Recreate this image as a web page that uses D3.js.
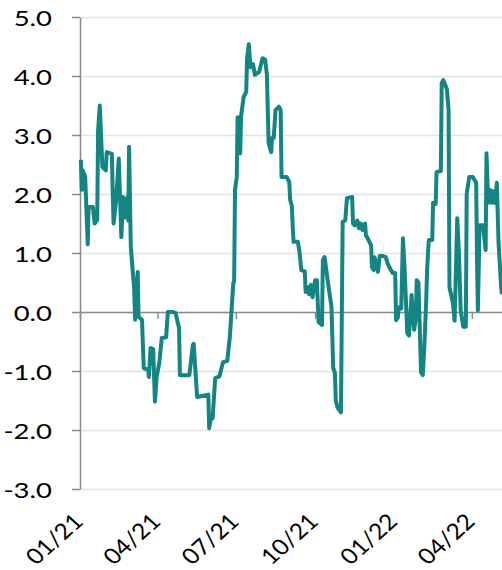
<!DOCTYPE html>
<html>
<head>
<meta charset="utf-8">
<script src="https://cdn.jsdelivr.net/npm/d3@7"></script>
<style>
    body { margin: 0; background: #fff; }
    svg { display: block; }
</style>
</head>
<body>
<div id="chart"></div>
<script>

var svgW = 502;
var svgH = 570;

var margin = {
    left: 80,
    right: 0,
    top: 17,
    bottom: 81
}

var chartH = svgH - margin.top - margin.bottom;
var chartW = svgW - margin.left - margin.right;

// series
var dates = [
    "2021-01-02","2021-01-03","2021-01-04","2021-01-07","2021-01-10","2021-01-11","2021-01-16","2021-01-18","2021-01-21","2021-01-22",
    "2021-01-24","2021-01-27","2021-01-31","2021-02-01","2021-02-07","2021-02-08","2021-02-09","2021-02-12","2021-02-15","2021-02-18",
    "2021-02-20","2021-02-22","2021-02-25","2021-02-26","2021-02-27","2021-03-01","2021-03-05","2021-03-06","2021-03-09","2021-03-10",
    "2021-03-14","2021-03-16","2021-03-21","2021-03-22","2021-03-24","2021-03-27","2021-03-29","2021-03-31","2021-04-03","2021-04-06",
    "2021-04-11","2021-04-13","2021-04-19","2021-04-22","2021-04-26","2021-04-27","2021-05-08","2021-05-12","2021-05-13","2021-05-17",
    "2021-05-30","2021-05-31","2021-06-02","2021-06-04","2021-06-07","2021-06-12","2021-06-16","2021-06-21","2021-06-24","2021-06-28",
    "2021-06-29","2021-06-30","2021-07-02","2021-07-03","2021-07-06","2021-07-07","2021-07-10","2021-07-13","2021-07-14","2021-07-16",
    "2021-07-18","2021-07-21","2021-07-23","2021-07-28","2021-08-01","2021-08-04","2021-08-06","2021-08-08","2021-08-11","2021-08-12",
    "2021-08-14","2021-08-16","2021-08-20","2021-08-22","2021-08-23","2021-08-29","2021-09-01","2021-09-02","2021-09-04","2021-09-05",
    "2021-09-06","2021-09-11","2021-09-13","2021-09-15","2021-09-19","2021-09-20","2021-09-23","2021-09-24","2021-09-26","2021-09-28",
    "2021-10-01","2021-10-03","2021-10-05","2021-10-09","2021-10-10","2021-10-12","2021-10-16","2021-10-20","2021-10-22","2021-10-24",
    "2021-10-25","2021-10-27","2021-10-31","2021-11-02","2021-11-05","2021-11-07","2021-11-13","2021-11-14","2021-11-16","2021-11-19",
    "2021-11-21","2021-11-23","2021-11-25","2021-11-28","2021-11-29","2021-12-01","2021-12-05","2021-12-06","2021-12-08","2021-12-09",
    "2021-12-12","2021-12-13","2021-12-15","2021-12-19","2021-12-22","2021-12-24","2021-12-28","2021-12-30","2022-01-02","2022-01-03",
    "2022-01-05","2022-01-06","2022-01-09","2022-01-11","2022-01-13","2022-01-16","2022-01-18","2022-01-21","2022-01-24","2022-01-26",
    "2022-01-27","2022-01-29","2022-02-01","2022-02-03","2022-02-05","2022-02-07","2022-02-08","2022-02-10","2022-02-14","2022-02-15",
    "2022-02-18","2022-02-19","2022-02-24","2022-02-25","2022-02-27","2022-03-03","2022-03-05","2022-03-06","2022-03-10","2022-03-12",
    "2022-03-15","2022-03-17","2022-03-19","2022-03-22","2022-03-25","2022-03-26","2022-03-29","2022-04-02","2022-04-06","2022-04-07",
    "2022-04-08","2022-04-10","2022-04-14","2022-04-17","2022-04-18","2022-04-20","2022-04-22","2022-04-24","2022-04-25","2022-04-28",
    "2022-04-30","2022-05-02","2022-05-05","2022-05-06"
];

var values = [
    2.58, 2.07, 2.4, 2.3, 1.15, 1.78, 1.78, 1.5, 1.56, 3.08,
    3.5, 2.46, 2.4, 2.71, 2.68, 2.0, 1.5, 1.9, 2.6, 1.27,
    1.95, 1.6, 1.95, 1.55, 2.8, 1.1, 0.37, -0.13, 0.68, -0.08,
    -0.13, -0.95, -0.98, -1.1, -0.61, -0.63, -1.52, -1.1, -0.87, -0.44,
    -0.43, 0.0, 0.0, -0.02, -0.27, -1.07, -1.07, -0.56, -0.54, -1.44,
    -1.4, -1.97, -1.8, -1.8, -1.12, -1.09, -0.85, -0.83, -0.42, 0.49,
    0.53, 2.07, 2.29, 3.3, 2.69, 3.32, 3.64, 3.73, 4.3, 4.54,
    4.15, 4.2, 4.02, 4.07, 4.3, 4.28, 4.02, 2.86, 2.71, 2.95,
    2.95, 3.42, 3.48, 3.42, 2.29, 2.29, 2.2, 1.9, 1.8, 1.44,
    1.19, 1.19, 1.0, 0.71, 0.69, 0.34, 0.42, 0.3, 0.46, 0.25,
    0.54, 0.54, -0.17, -0.22, 0.88, 0.93, 0.49, 0.09, -0.95, -1.03,
    -1.5, -1.62, -1.7, 1.53, 1.55, 1.93, 1.95, 1.5, 1.47, 1.55,
    1.42, 1.5, 1.39, 1.5, 1.3, 1.25, 1.13, 0.76, 0.71, 0.93,
    0.76, 0.68, 0.95, 0.95, 0.93, 0.83, 0.71, 0.66, 0.66, -0.14,
    -0.1, 0.08, 0.06, 1.25, 0.71, -0.36, -0.4, 0.29, -0.3, -0.1,
    0.54, 0.5, -1.02, -1.07, -0.53, 0.2, 0.71, 1.22, 1.22, 1.85,
    1.83, 2.37, 2.39, 3.88, 3.93, 3.78, 3.42, 0.42, 0.15, -0.15,
    1.59, 1.0, 0.03, -0.25, -0.25, 2.0, 2.29, 2.29, 2.19, 0.88,
    0.03, 1.47, 1.47, 1.05, 2.69, 1.85, 2.07, 1.85, 2.05, 1.85,
    2.19, 1.17, 0.42, 0.3
];

var xTickDates = ["2021-01-01", "2021-04-01", "2021-07-01", "2021-10-01", "2022-01-01", "2022-04-01"];
var xTickLabels = ["01/21", "04/21", "07/21", "10/21", "01/22", "04/22"];
var yTicks = [-3, -2, -1, 0, 1, 2, 3, 4, 5];

var parseDate = d3.timeParse("%Y-%m-%d");
var data = dates.map((d, i) => ({ date: parseDate(d), value: values[i] }));
var tickDates = xTickDates.map(parseDate);

var svg = d3.select("#chart")
    .append("svg")
    .attr("width", svgW)
    .attr("height", svgH);
var g = svg.append("g")
    .attr("transform", `translate(${margin.left}, ${margin.top})`);

var xScale = d3.scaleTime()
    .domain([parseDate("2021-01-01"), parseDate("2022-05-06")])
    .range([0, chartW]);

var yScale = d3.scaleLinear()
    .domain([-3, 5])
    .range([chartH, 0]);

var axisColor = "#8a8a8a";
var fontFam = "Lato, 'Open Sans', sans-serif";

// gridlines
g.append("g")
    .attr("class", "grid")
    .call(d3.axisLeft(yScale).tickValues(yTicks).tickSize(-chartW).tickFormat(""))
    .call(s => s.select(".domain").remove())
    .call(s => s.selectAll("line").attr("stroke", "#e3e3e3").attr("stroke-width", 1.5));

// y axis (plain hyphen for negatives, like the original)
var yAxis = g.append("g")
    .attr("id", "y-axis")
    .call(d3.axisLeft(yScale).tickValues(yTicks).tickSize(8).tickSizeOuter(0).tickFormat(d => d.toFixed(1)));

yAxis.select(".domain").attr("stroke", axisColor).attr("stroke-width", 1.5);
yAxis.selectAll("line").attr("stroke", axisColor).attr("stroke-width", 1.5);
yAxis.selectAll("text")
    .attr("x", null)
    .attr("dy", null)
    .attr("transform", "translate(-28, 8) scale(1.25, 1)")
    .attr("text-anchor", "end")
    .attr("fill", "#000")
    .style("font-family", fontFam)
    .style("font-size", "22px");

// x axis sits on the zero line
var xAxis = g.append("g")
    .attr("id", "x-axis")
    .attr("transform", `translate(0, ${yScale(0)})`)
    .call(d3.axisBottom(xScale).tickValues(tickDates).tickSize(7).tickSizeOuter(0)
        .tickFormat((d, i) => xTickLabels[i]));

xAxis.select(".domain").attr("stroke", axisColor).attr("stroke-width", 1.5);
xAxis.selectAll("line").attr("stroke", axisColor).attr("stroke-width", 1.5);
xAxis.selectAll("text")
    .attr("y", null)
    .attr("dy", null)
    .attr("transform", `translate(4, ${chartH - yScale(0) + 34}) scale(1.12, 1) rotate(-45)`)
    .attr("text-anchor", "end")
    .attr("fill", "#000")
    .style("font-family", fontFam)
    .style("font-size", "22px");

// series line
var line = d3.line()
    .x(d => xScale(d.date))
    .y(d => yScale(d.value));

g.append("path")
    .datum(data)
    .attr("fill", "none")
    .attr("stroke", "#138582")
    .attr("stroke-width", 4)
    .attr("stroke-linejoin", "round")
    .attr("d", line);

</script>
</body>
</html>
